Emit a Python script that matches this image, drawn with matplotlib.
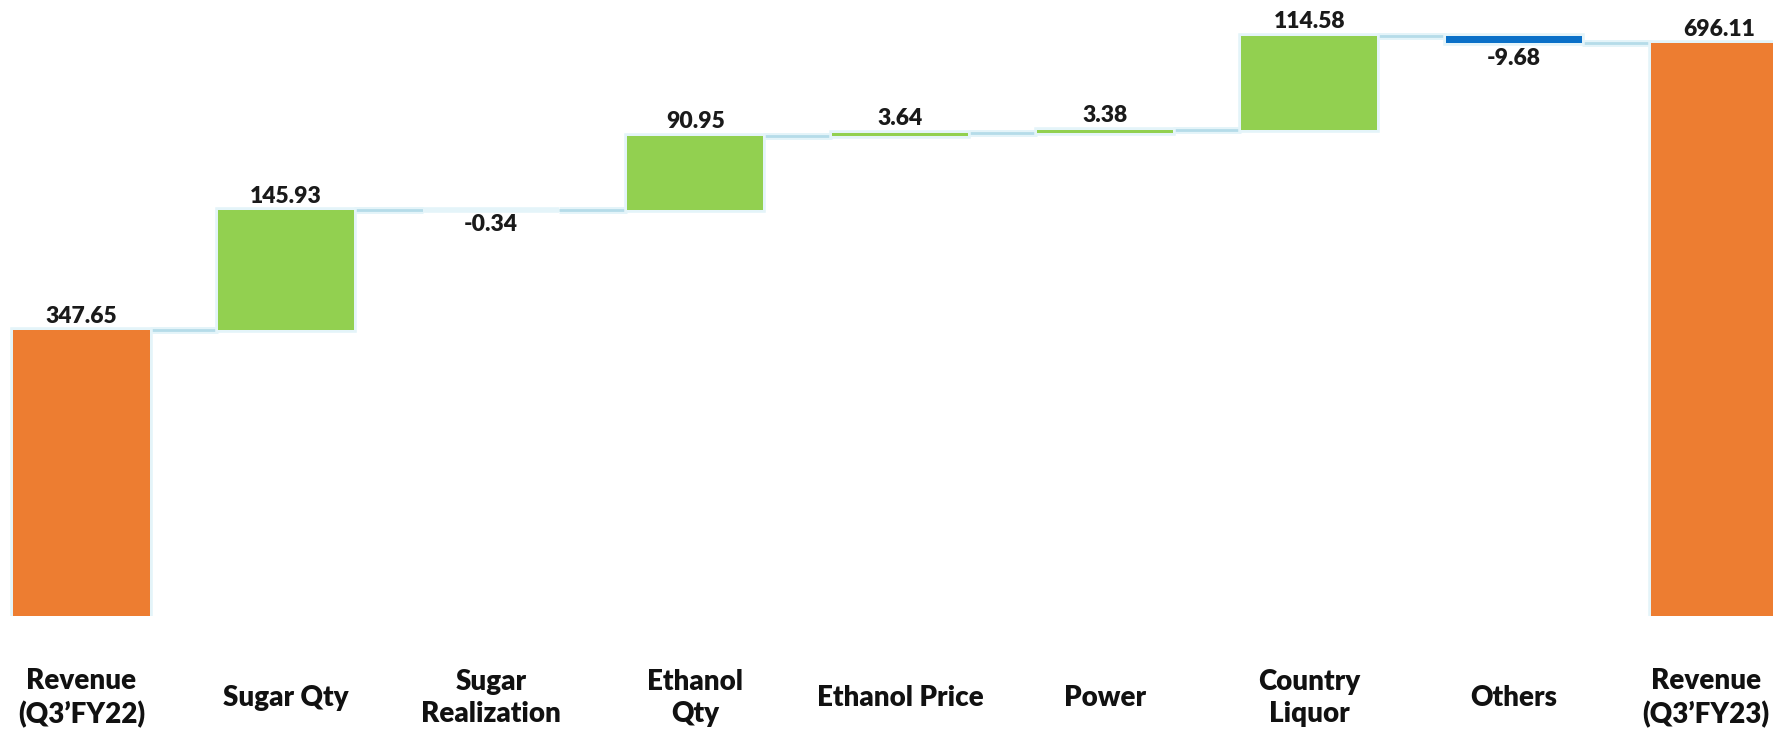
import matplotlib
matplotlib.use("Agg")
import matplotlib.pyplot as plt
import matplotlib.patheffects as pe
from matplotlib.transforms import ScaledTranslation
import numpy as np

categories = ["Revenue\n(Q3\u2019FY22)", "Sugar Qty", "Sugar\nRealization", "Ethanol\nQty",
              "Ethanol Price", "Power", "Country\nLiquor", "Others", "Revenue\n(Q3\u2019FY23)"]
changes = [347.65, 145.93, -0.34, 90.95, 3.64, 3.38, 114.58, -9.68, 696.11]
kinds = ["total", "delta", "delta", "delta", "delta", "delta", "delta", "delta", "total"]
labels = ["347.65", "145.93", "-0.34", "90.95", "3.64", "3.38", "114.58", "-9.68", "696.11"]

ORANGE = "#ED7D31"
GREEN = "#92D050"
BLUE = "#0A70C8"
NEG_SMALL = "#C9D9E6"
GLOW = "#E4F4F9"
CONN = "#B5DCE9"

plt.rcParams['font.family'] = ['Lato', 'DejaVu Sans']

fig = plt.figure(figsize=(17.73, 7.32), dpi=100)
ax = fig.add_axes([0, (732 - 616) / 732, 1, 616 / 732])

x = np.arange(len(categories))
width = 0.665
bottoms, heights, ends = [], [], []
level = 0.0
for c, k in zip(changes, kinds):
    if k == "total":
        bottoms.append(0.0)
        heights.append(c)
        level = c
    else:
        if c >= 0:
            bottoms.append(level)
        else:
            bottoms.append(level + c)
        heights.append(abs(c))
        level = level + c
    ends.append(level)

colors = []
for c, k in zip(changes, kinds):
    if k == "total":
        colors.append(ORANGE)
    elif c >= 0:
        colors.append(GREEN)
    elif abs(c) < 1:
        colors.append(NEG_SMALL)
    else:
        colors.append(BLUE)

# connectors
for i in range(len(x) - 1):
    ax.plot([x[i] + width / 2, x[i + 1] - width / 2], [ends[i], ends[i]],
            color=CONN, lw=2.0, solid_capstyle='butt', zorder=1,
            path_effects=[pe.Stroke(linewidth=5, foreground=GLOW), pe.Normal()])

bars = ax.bar(x, heights, bottom=bottoms, width=width, color=colors, zorder=2,
              linewidth=0)
for b in bars:
    b.set_path_effects([pe.Stroke(linewidth=4, foreground=GLOW), pe.Normal()])

for i in range(len(x)):
    top = bottoms[i] + heights[i]
    if changes[i] >= 0:
        ax.text(x[i], top + 4, labels[i], ha='center', va='bottom',
                fontsize=16.5, fontweight='heavy', color='#1a1a1a')
    else:
        ax.text(x[i], bottoms[i] - 5, labels[i], ha='center', va='top',
                fontsize=16.5, fontweight='heavy', color='#1a1a1a')

ax.set_xlim(-0.398, 8.265)
ax.set_ylim(0, 749)
ax.set_xticks(x)
ax.set_xticklabels(categories, fontsize=20, fontweight='heavy', color='#111111',
                   linespacing=1.3)
ax.tick_params(axis='x', length=0, pad=59)
for lbl in ax.get_xticklabels():
    lbl.set_va('center')
last = ax.get_xticklabels()[-1]
last.set_transform(last.get_transform() + ScaledTranslation(-0.13, 0, fig.dpi_scale_trans))
ax.set_yticks([])
for s in ax.spines.values():
    s.set_visible(False)

fig.savefig("out.png", dpi=100)
